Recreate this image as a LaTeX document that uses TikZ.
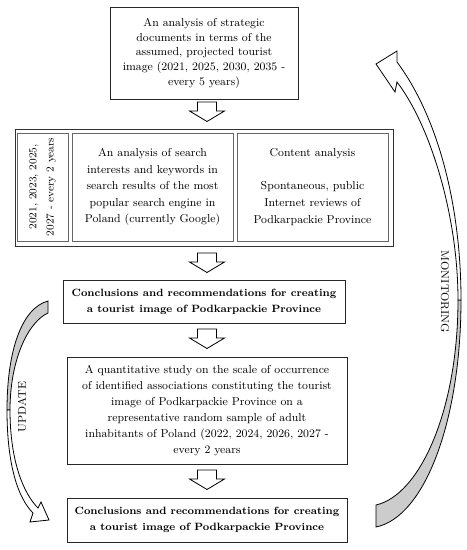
\documentclass[tikz,border=0pt]{standalone}
\usetikzlibrary{calc}
\begin{document}
\begin{tikzpicture}[x=0.75pt,y=-0.75pt,
  box/.style={draw=black!85, line width=0.7pt, align=center, inner sep=0pt,
    font=\fontsize{8.6}{11.8}\selectfont},
  innerbox/.style={draw=black!60, line width=0.6pt, align=center, inner sep=0pt,
    font=\fontsize{8.6}{12.4}\selectfont},
  boldbox/.style={box, font=\fontsize{7.9}{12}\selectfont\bfseries},
  gband/.style={fill=black!20, draw=black, line width=0.6pt},
  wband/.style={fill=white, draw=black, line width=0.6pt},
  sidelabel/.style={font=\fontsize{8.4}{10}\selectfont, inner sep=0pt},
  darrow/.pic={\draw[fill=white, line width=0.6pt] (-9.5,-9) -- (9.5,-9) -- (9.5,0) -- (17.5,0) -- (0,10.5) -- (-17.5,0) -- (-9.5,0) -- cycle;}
]
\useasboundingbox (0,0) rectangle (467,550);

% box 1
\node[box, minimum width=188*0.75pt, minimum height=92*0.75pt, font=\fontsize{8.6}{11}\selectfont] (b1) at (204,53)
  {An analysis of strategic\\documents in terms of the\\assumed, projected tourist\\image (2021, 2025, 2030, 2035 -\\every 5 years)};

% box 2 (outer frame and three inner cells)
\node[draw=black!80, line width=0.6pt, minimum width=378*0.75pt, minimum height=117*0.75pt, inner sep=0pt] (b2) at (204,187.5) {};
\node[innerbox, minimum width=51*0.75pt, minimum height=108*0.75pt] (b2a) at (42.5,187) {};
\node[rotate=90, align=center, inner sep=0pt, font=\fontsize{8}{13}\selectfont] (b2at) at (b2a.center) {2021, 2023, 2025,\\2027 - every 2 years};
\node[innerbox, minimum width=161*0.75pt, minimum height=108*0.75pt] (b2b) at (152.5,187)
  {An analysis of search\\interests and keywords in\\search results of the most\\popular search engine in\\Poland (currently Google)};
\node[innerbox, minimum width=151*0.75pt, minimum height=108*0.75pt] (b2c) at (312.5,187)
  {Content analysis\\\mbox{}\\Spontaneous, public\\Internet reviews of\\Podkarpackie Province};

% box 3
\node[boldbox, minimum width=282*0.75pt, minimum height=43*0.75pt] (b3) at (204,301.5)
  {Conclusions and recommendations for creating\\a tourist image of Podkarpackie Province};

% box 4
\node[box, minimum width=280*0.75pt, minimum height=107*0.75pt, font=\fontsize{8.6}{12}\selectfont] (b4) at (207,410.5)
  {A quantitative study on the scale of occurrence\\of identified associations constituting the tourist\\image of Podkarpackie Province on a\\representative random sample of adult\\inhabitants of Poland (2022, 2024, 2026, 2027 -\\every 2 years};

% box 5
\node[boldbox, minimum width=280*0.75pt, minimum height=44*0.75pt] (b5) at (207,520)
  {Conclusions and recommendations for creating\\a tourist image of Podkarpackie Province};

% block arrows between the boxes
\pic at (207,111) {darrow};
\pic at (207,262) {darrow};
\pic at (207,338) {darrow};
\pic at (207,479) {darrow};

% MONITORING curved arrow
\filldraw[gband] (376,527) .. controls (425,517) and (461,420) .. (461,300)
  -- (458,300) .. controls (458,410) and (420,495) .. (376,505) -- cycle;
\filldraw[wband] (461,300) .. controls (461,210) and (440,120) .. (397,62)
  -- (397,51) -- (376,64) -- (395,92) -- (397,82)
  .. controls (430,125) and (458,215) .. (458,300) -- cycle;
\node[sidelabel, rotate=-90] (mon) at (445,292) {MONITORING};

% UPDATE curved arrow
\filldraw[gband] (48,301) .. controls (22,308) and (7,350) .. (7,410)
  -- (10,410) .. controls (10,360) and (28,322) .. (48,313) -- cycle;
\filldraw[wband] (7,410) .. controls (7,465) and (18,498) .. (33,513)
  -- (30,522) -- (49,520) -- (41,502) -- (38,508)
  .. controls (23,493) and (10,460) .. (10,410) -- cycle;
\node[sidelabel, rotate=90] (upd) at (22,407) {UPDATE};
\end{tikzpicture}
\end{document}
